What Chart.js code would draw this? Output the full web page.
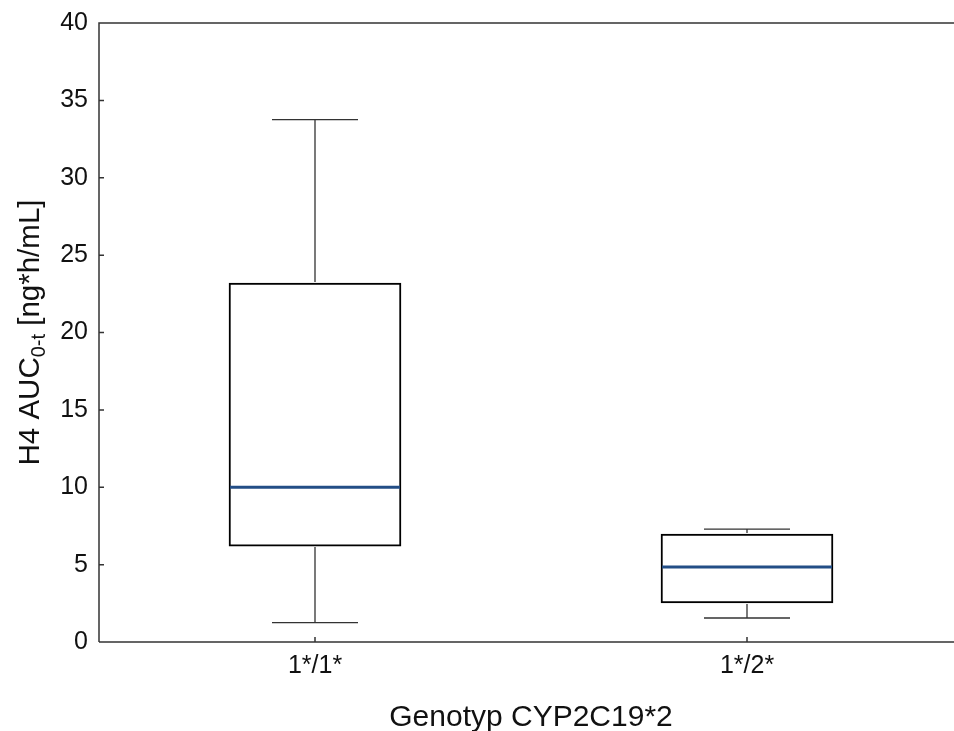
<!DOCTYPE html>
<html><head><meta charset="utf-8">
<script src="https://cdn.jsdelivr.net/npm/chart.js@4/dist/chart.umd.min.js"></script>
<style>html,body{margin:0;padding:0;background:#fff;overflow:hidden}#wrap{width:963px;height:731px;position:relative}</style>
</head><body><div id="wrap"><canvas id="c"></canvas></div>
<script>
const categories = ['1*/1*', '1*/2*'];
const whiskerMin = [1.25, 1.55];
const q1 = [6.2, 2.52];
const median = [10.0, 4.85];
const q3 = [23.2, 6.98];
const whiskerMax = [33.75, 7.3];
const yTickValues = [0, 5, 10, 15, 20, 25, 30, 35, 40];
const xTitle = 'Genotyp CYP2C19*2';
const yTitleMain = 'H4 AUC';
const yTitleSub = '0-t';
const yTitleEnd = ' [ng*h/mL]';

const FONT = "'Liberation Sans', Arial, sans-serif";

const decor = {
  id: 'decor',
  afterDatasetsDraw(chart) {
    const ctx = chart.ctx, xs = chart.scales.x, ys = chart.scales.y, a = chart.chartArea;
    const meta = chart.getDatasetMeta(0);
    ctx.save();
    categories.forEach((c, i) => {
      const x = xs.getPixelForValue(i);
      const w = meta.data[i].width;
      const cap = w / 2;
      ctx.strokeStyle = '#333';
      ctx.lineWidth = 1.3;
      ctx.beginPath();
      ctx.moveTo(x, ys.getPixelForValue(whiskerMax[i]));
      ctx.lineTo(x, ys.getPixelForValue(q3[i]) - 1);
      ctx.moveTo(x, ys.getPixelForValue(q1[i]) + 1);
      ctx.lineTo(x, ys.getPixelForValue(whiskerMin[i]));
      ctx.moveTo(x - cap / 2, ys.getPixelForValue(whiskerMax[i]));
      ctx.lineTo(x + cap / 2, ys.getPixelForValue(whiskerMax[i]));
      ctx.moveTo(x - cap / 2, ys.getPixelForValue(whiskerMin[i]));
      ctx.lineTo(x + cap / 2, ys.getPixelForValue(whiskerMin[i]));
      ctx.stroke();
      ctx.strokeStyle = '#234e86';
      ctx.lineWidth = 3;
      ctx.beginPath();
      const ym = ys.getPixelForValue(median[i]);
      ctx.moveTo(x - w / 2 + 1, ym);
      ctx.lineTo(x + w / 2 - 1, ym);
      ctx.stroke();
    });
    // frame
    ctx.strokeStyle = '#333';
    ctx.lineWidth = 1.5;
    ctx.beginPath();
    ctx.moveTo(a.left, a.bottom);
    ctx.lineTo(a.left, a.top);
    ctx.lineTo(a.right, a.top);
    ctx.moveTo(a.left, a.bottom);
    ctx.lineTo(a.right, a.bottom);
    // inward ticks
    yTickValues.forEach(v => {
      const y = ys.getPixelForValue(v);
      ctx.moveTo(a.left, y);
      ctx.lineTo(a.left + 5, y);
    });
    categories.forEach((c, i) => {
      const x = xs.getPixelForValue(i);
      ctx.moveTo(x, a.bottom);
      ctx.lineTo(x, a.bottom - 5);
    });
    ctx.stroke();
    // titles
    ctx.fillStyle = '#111';
    ctx.font = '30px ' + FONT;
    ctx.textAlign = 'center';
    ctx.textBaseline = 'alphabetic';
    ctx.fillText(xTitle, (a.left + a.right) / 2, 726);
    ctx.translate(39, (a.top + a.bottom) / 2);
    ctx.rotate(-Math.PI / 2);
    const f1 = '29.5px ' + FONT, f2 = '20px ' + FONT;
    ctx.font = f1; const w1 = ctx.measureText(yTitleMain).width;
    const w3 = ctx.measureText(yTitleEnd).width;
    ctx.font = f2; const w2 = ctx.measureText(yTitleSub).width;
    let sx = -(w1 + w2 + w3) / 2;
    ctx.textAlign = 'left';
    ctx.font = f1; ctx.fillText(yTitleMain, sx, 0); sx += w1;
    ctx.font = f2; ctx.fillText(yTitleSub, sx, 6); sx += w2;
    ctx.font = f1; ctx.fillText(yTitleEnd, sx, 0);
    ctx.restore();
  }
};

new Chart(document.getElementById('c'), {
  type: 'bar',
  data: {
    labels: categories,
    datasets: [{
      data: categories.map((c, i) => [q1[i], q3[i]]),
      backgroundColor: '#fff',
      borderColor: '#000',
      borderWidth: 2,
      borderSkipped: false,
      barThickness: 172
    }]
  },
  options: {
    responsive: true,
    maintainAspectRatio: false,
    animation: false,
    layout: { padding: { left: 0, right: 0, top: 23, bottom: 0 } },
    plugins: { legend: { display: false }, tooltip: { enabled: false } },
    scales: {
      x: {
        offset: true,
        grid: { display: false, drawTicks: false },
        border: { display: false },
        ticks: { color: '#111', font: { family: FONT, size: 25 }, padding: 9 },
        afterFit(s) { s.height = 89; s.paddingLeft = 0; s.paddingRight = 0; }
      },
      y: {
        min: 0, max: 40,
        afterBuildTicks(s) { s.ticks = yTickValues.map(v => ({ value: v })); },
        grid: { display: false, drawTicks: false },
        border: { display: false },
        ticks: { color: '#111', font: { family: FONT, size: 25 }, padding: 11 },
        afterFit(s) { s.width = 99; s.paddingTop = 0; s.paddingBottom = 0; }
      }
    }
  },
  plugins: [decor]
});
</script></body></html>
